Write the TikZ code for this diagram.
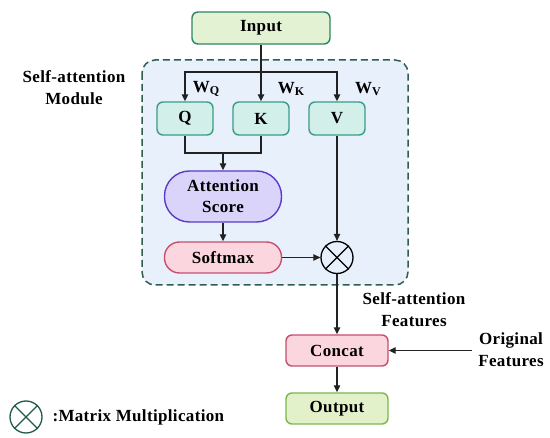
\documentclass[tikz,border=0pt]{standalone}
\usepackage{fontspec}
\setmainfont{Liberation Serif}[LetterSpace=2]
\usetikzlibrary{arrows.meta}
\definecolor{inpfill}{HTML}{E3F2D3}
\definecolor{inpdraw}{HTML}{2E8466}
\definecolor{qfill}{HTML}{D2F0E9}
\definecolor{qdraw}{HTML}{3A9C89}
\definecolor{attfill}{HTML}{DAD3FA}
\definecolor{attdraw}{HTML}{5B3CC8}
\definecolor{pkfill}{HTML}{FCD6DE}
\definecolor{pkdraw}{HTML}{C64F6D}
\definecolor{outfill}{HTML}{E3F1CB}
\definecolor{outdraw}{HTML}{7CB74B}
\definecolor{modfill}{HTML}{E8F0FC}
\definecolor{moddraw}{HTML}{2E5E4D}
\definecolor{lgdraw}{HTML}{1F5B45}
\definecolor{ln}{HTML}{222222}
\tikzset{
  txt/.style={font=\fontsize{17}{22}\selectfont\bfseries, text=black},
  box/.style={txt, rectangle, rounded corners=6pt, line width=1.4pt, inner sep=0pt},
  arr/.style={draw=ln, line width=1.2pt, -{Triangle[length=7pt,width=6.5pt]}},
  ln/.style={draw=ln, line width=1.2pt},
}
\newcommand{\Wsub}[1]{W\raisebox{-0.35ex}{\fontsize{12}{12}\selectfont #1}}
\begin{document}
\begin{tikzpicture}[x=1pt,y=-1pt]
\useasboundingbox (0,0) rectangle (550,438);
% module
\draw[draw=moddraw, fill=modfill, line width=1.5pt, dash pattern=on 7pt off 4pt, rounded corners=13pt] (142,60) rectangle (408,285);
\node[txt, align=center] (modlbl) at (74,88) {Self-attention\\Module};
% nodes
\node[box, fill=inpfill, draw=inpdraw, minimum width=138pt, minimum height=32pt] (inp) at (261,28) {Input};
\node[box, fill=qfill, draw=qdraw, minimum width=56pt, minimum height=33pt] (q) at (185,118.5) {Q};
\node[box, fill=qfill, draw=qdraw, minimum width=56pt, minimum height=33pt] (k) at (261,118.5) {K};
\node[box, fill=qfill, draw=qdraw, minimum width=56pt, minimum height=33pt] (v) at (337,118.5) {V};
\node[box, fill=attfill, draw=attdraw, rounded corners=25pt, minimum width=117pt, minimum height=51pt, align=center] (att) at (223,196.5) {Attention\\[-1pt]Score};
\node[box, fill=pkfill, draw=pkdraw, rounded corners=15pt, minimum width=117pt, minimum height=31pt] (soft) at (223,257.5) {Softmax};
\node[circle, draw=black, line width=1.3pt, minimum size=32pt, inner sep=0pt] (mul) at (337,257.5) {};
\draw[line width=1.3pt] (mul.north west) -- (mul.south east) (mul.north east) -- (mul.south west);
\node[box, fill=pkfill, draw=pkdraw, minimum width=102pt, minimum height=31pt] (concat) at (337,350.5) {Concat};
\node[box, fill=outfill, draw=outdraw, minimum width=102pt, minimum height=31pt] (out) at (337,408.5) {Output};
% labels
\node[txt] (wq) at (206,89) {\Wsub{Q}};
\node[txt] (wk) at (291,89) {\Wsub{K}};
\node[txt] (wv) at (368,89) {\Wsub{V}};
\node[txt, align=center] (saf) at (414,310) {Self-attention\\Features};
\node[txt, align=center] (orig) at (511,350) {Original\\Features};
% legend
\node[circle, draw=lgdraw, line width=1.3pt, minimum size=32pt, inner sep=0pt] (lg) at (26,417) {};
\draw[draw=lgdraw, line width=1.3pt] (lg.north west) -- (lg.south east) (lg.north east) -- (lg.south west);
\node[txt, anchor=west] (lgt) at (49,417) {:Matrix Multiplication};
% connectors
\coordinate (br) at (261,72);
\coordinate (mg) at (223,153);
\coordinate (of) at (472,350.5);
\draw[arr] (inp.south) -- (k.north);
\draw[arr] (br) -| (q.north);
\draw[arr] (br) -| (v.north);
\draw[ln] (q.south) |- (mg);
\draw[ln] (k.south) |- (mg);
\draw[arr] (mg) -- (att.north);
\draw[arr] (att.south) -- (soft.north);
\draw[arr] (soft.east) -- (mul.west);
\draw[arr] (v.south) -- (mul.north);
\draw[arr] (mul.south) -- (concat.north);
\draw[arr] (of) -- (concat.east);
\draw[arr] (concat.south) -- (out.north);
\end{tikzpicture}
\end{document}
